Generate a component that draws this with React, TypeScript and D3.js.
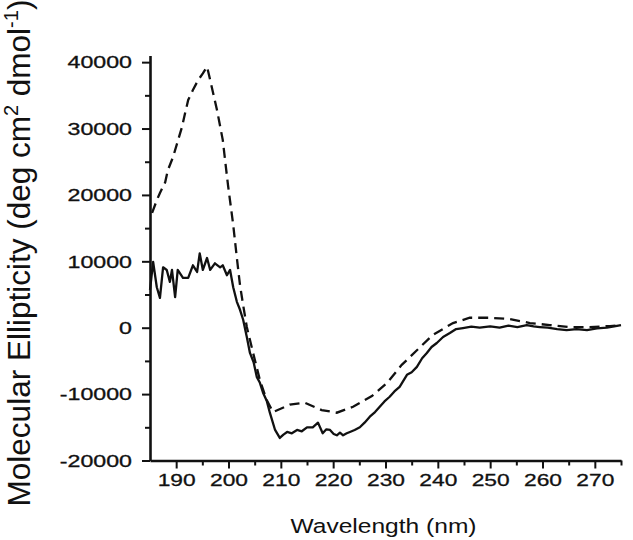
import { useEffect, useRef } from "react";
import * as d3 from "d3";

// wavelength (nm) / molar ellipticity
const solidWl = [185.0, 185.6, 186.3, 186.9, 187.5, 188.2, 188.8, 189.2, 189.8, 190.3, 191.3, 192.3, 193.2, 194.0, 194.5, 195.1, 195.9, 196.5, 197.4, 198.4, 198.9, 199.7, 200.3, 200.9, 201.6, 202.2, 202.8, 203.5, 204.1, 204.8, 205.4, 206.0, 206.6, 207.3, 207.9, 208.9, 209.8, 210.5, 211.2, 212.1, 213.1, 214.0, 215.0, 216.1, 217.1, 218.0, 218.7, 219.4, 220.1, 220.7, 221.3, 221.9, 222.6, 223.2, 224.1, 225.1, 226.0, 227.0, 228.0, 228.9, 229.8, 230.8, 231.7, 232.7, 234.1, 235.0, 236.0, 237.0, 237.9, 238.8, 239.8, 241.0, 242.3, 243.5, 244.8, 246.4, 248.0, 250.0, 251.8, 253.5, 255.2, 257.0, 258.3, 259.5, 261.0, 262.8, 264.6, 266.5, 268.5, 270.4, 272.3, 273.7, 275.0];
const solidVal = [5700, 9900, 6100, 4500, 9100, 8700, 6900, 8700, 4600, 8700, 7500, 7500, 9400, 8400, 11200, 8700, 10500, 8700, 9700, 9100, 9400, 7900, 8700, 6100, 3900, 2700, 1200, -1400, -3800, -5200, -7400, -8300, -9800, -11000, -12800, -15400, -16600, -16100, -15700, -15900, -15400, -15600, -15000, -15000, -14300, -15900, -15300, -15400, -16000, -16200, -15800, -16200, -15900, -15700, -15400, -15000, -14300, -13400, -12700, -11900, -11100, -10400, -9600, -8900, -7100, -6700, -5900, -4600, -3800, -2900, -2300, -1400, -800, -200, -50, 150, 0, 200, 0, 300, 100, 400, 200, 100, 0, -200, -350, -200, -350, -100, 0, 200, 400];

const dashWl = [185.4, 186.3, 186.9, 187.9, 188.4, 189.4, 190.2, 191.1, 191.7, 192.3, 193.2, 194.2, 195.1, 195.9, 196.5, 197.8, 198.9, 199.9, 200.9, 201.6, 202.2, 202.8, 203.5, 204.7, 206.0, 207.3, 208.5, 211.7, 214.6, 217.8, 220.7, 223.8, 227.4, 230.3, 233.1, 236.0, 239.0, 242.9, 246.1, 249.9, 253.8, 257.6, 261.4, 265.2, 269.0, 272.9, 275.0];
const dashVal = [17300, 19200, 20300, 21900, 23700, 25700, 27800, 30200, 32300, 34300, 35800, 37300, 38300, 39300, 37300, 32800, 28300, 21500, 15500, 10500, 6400, 3400, 100, -3800, -7900, -10900, -12700, -11600, -11300, -12400, -12800, -11900, -10300, -8300, -5600, -3400, -1100, 700, 1500, 1500, 1300, 700, 400, 100, 100, 250, 400];

const xMajor = [190, 200, 210, 220, 230, 240, 250, 260, 270];
const xMinor = [195, 205, 215, 225, 235, 245, 255, 265, 275];
const yMajor = [-20000, -10000, 0, 10000, 20000, 30000, 40000];
const yMinor = [-15000, -5000, 5000, 15000, 25000, 35000];

const FONT = "'Liberation Sans', Arial, sans-serif";

export default function App() {
  const ref = useRef<SVGSVGElement>(null);

  useEffect(() => {
    const svg = d3.select(ref.current);
    svg.selectAll("*").remove();

    const x = d3.scaleLinear().domain([185, 275]).range([150, 621]);
    const y = d3.scaleLinear().domain([-20000, 41000]).range([460.5, 55.5]);

    const line = d3.line<[number, number]>()
      .x(d => x(d[0]))
      .y(d => y(d[1]));

    const solid = solidWl.map((w, i) => [w, solidVal[i]] as [number, number]);
    const dashed = dashWl.map((w, i) => [w, dashVal[i]] as [number, number]);

    svg.append("path")
      .attr("d", line(dashed))
      .attr("fill", "none")
      .attr("stroke", "#111")
      .attr("stroke-width", 2.3)
      .attr("stroke-dasharray", "10,6");

    svg.append("path")
      .attr("d", line(solid))
      .attr("fill", "none")
      .attr("stroke", "#111")
      .attr("stroke-width", 2.3)
      .attr("stroke-linejoin", "round");

    // minor ticks
    svg.append("g")
      .attr("transform", `translate(0,${y(-20000)})`)
      .call(d3.axisBottom(x).tickValues(xMinor).tickSize(5).tickSizeOuter(0).tickFormat(() => ""))
      .call(g => g.select(".domain").remove())
      .call(g => g.selectAll("line").attr("stroke", "#111").attr("stroke-width", 2));

    svg.append("g")
      .attr("transform", `translate(${x(185)},0)`)
      .call(d3.axisLeft(y).tickValues(yMinor).tickSize(5).tickSizeOuter(0).tickFormat(() => ""))
      .call(g => g.select(".domain").remove())
      .call(g => g.selectAll("line").attr("stroke", "#111").attr("stroke-width", 2));

    // major axes
    const xAxis = svg.append("g")
      .attr("transform", `translate(0,${y(-20000)})`)
      .call(d3.axisBottom(x).tickValues(xMajor).tickSize(8).tickSizeOuter(0).tickFormat(d => String(d)));
    xAxis.select(".domain").attr("stroke", "#111").attr("stroke-width", 2.6);
    xAxis.selectAll("line").attr("stroke", "#111").attr("stroke-width", 2);
    xAxis.selectAll("text")
      .attr("x", 0)
      .attr("y", 0)
      .attr("dy", 0)
      .attr("transform", "translate(0,25) scale(1.34,1)")
      .attr("fill", "#111")
      .attr("stroke", "#111")
      .attr("stroke-width", 0.3)
      .style("font-family", FONT)
      .style("font-size", "17px");

    const yAxis = svg.append("g")
      .attr("transform", `translate(${x(185)},0)`)
      .call(d3.axisLeft(y).tickValues(yMajor).tickSize(8).tickSizeOuter(0).tickFormat(d => String(d)));
    yAxis.select(".domain").attr("stroke", "#111").attr("stroke-width", 2.6);
    yAxis.selectAll("line").attr("stroke", "#111").attr("stroke-width", 2);
    yAxis.selectAll("text")
      .attr("x", 0)
      .attr("dy", "0.36em")
      .attr("transform", "translate(-18,0) scale(1.45,1)")
      .attr("fill", "#111")
      .attr("stroke", "#111")
      .attr("stroke-width", 0.3)
      .style("font-family", FONT)
      .style("font-size", "16px");

    // axis titles
    svg.append("text")
      .attr("transform", "translate(383.5,533) scale(1.26,1)")
      .attr("text-anchor", "middle")
      .attr("fill", "#111")
      .style("font-family", FONT)
      .style("font-size", "19.5px")
      .text("Wavelength (nm)");

    const yt = svg.append("text")
      .attr("transform", "translate(30,253) rotate(-90)")
      .attr("text-anchor", "middle")
      .attr("fill", "#111")
      .style("font-family", FONT)
      .style("font-size", "31.5px");
    yt.append("tspan").text("Molecular Ellipticity (deg cm");
    yt.append("tspan").attr("dy", -12).style("font-size", "20px").text("2");
    yt.append("tspan").attr("dy", 12).text(" dmol");
    yt.append("tspan").attr("dy", -12).style("font-size", "20px").text("-1");
    yt.append("tspan").attr("dy", 12).text(")");
  }, []);

  return (
    <svg
      ref={ref}
      width={633}
      height={540}
      style={{ position: "absolute", left: 0, top: 0, background: "#fff" }}
    />
  );
}
